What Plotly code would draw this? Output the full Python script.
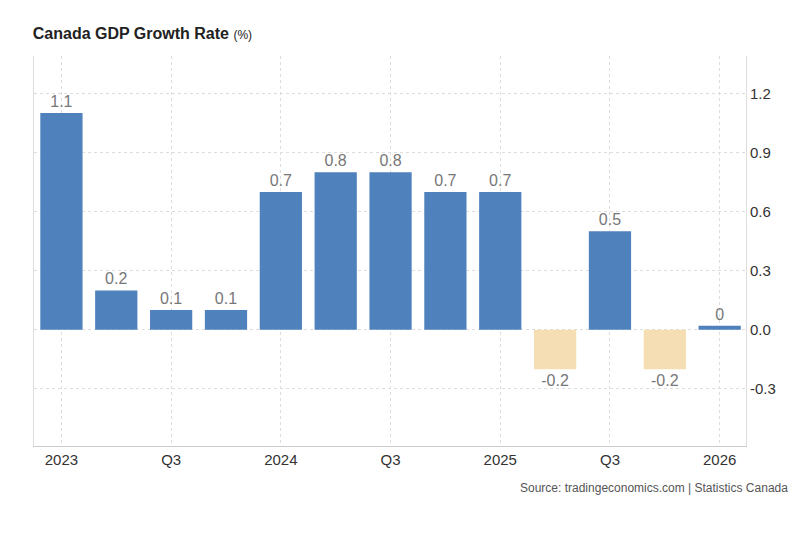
import plotly.graph_objects as go

quarters = ["2023Q1","2023Q2","2023Q3","2023Q4","2024Q1","2024Q2","2024Q3","2024Q4","2025Q1","2025Q2","2025Q3","2025Q4","2026Q1"]
values = [1.1,0.2,0.1,0.1,0.7,0.8,0.8,0.7,0.7,-0.2,0.5,-0.2,0.02]
labels = ["1.1","0.2","0.1","0.1","0.7","0.8","0.8","0.7","0.7","-0.2","0.5","-0.2","0"]
tick_text = ["2023","Q3","2024","Q3","2025","Q3","2026"]
tick_idx = [0,2,4,6,8,10,12]

x = list(range(len(quarters)))
colors = ["#4f81bd" if v >= 0 else "#f5deb3" for v in values]

fig = go.Figure(go.Bar(
    x=x, y=values, marker=dict(color=colors, line=dict(width=0)), width=0.77,
    text=labels, textposition="outside", cliponaxis=False,
    textfont=dict(family="Arial, Liberation Sans", size=16, color="#777777"),
))
fig.update_layout(
    width=800, height=546, plot_bgcolor="white", paper_bgcolor="white",
    margin=dict(l=26, r=62, t=48, b=108),
    showlegend=False, bargap=0.23,
    title=dict(text="<b>Canada GDP Growth Rate</b> <span style='font-size:12px'>(%)</span>",
               x=0.031, xanchor="left", y=0.963, yanchor="top",
               font=dict(family="Arial, Liberation Sans", size=16, color="#222222")),
    xaxis=dict(range=[-0.5,12.48], tickmode="array", tickvals=tick_idx, ticktext=tick_text,
               showgrid=True, gridcolor="#dddddd", griddash="dot",
               showline=True, linecolor="#cccccc", ticks="", zeroline=False,
               tickfont=dict(family="Arial, Liberation Sans", size=15, color="#333333")),
    yaxis=dict(side="right", range=[-0.59,1.39], tickvals=[-0.3,0,0.3,0.6,0.9,1.2],
               ticktext=["-0.3","0.0","0.3","0.6","0.9","1.2"],
               showgrid=True, gridcolor="#dddddd", griddash="dot", zeroline=False,
               showline=True, linecolor="#dddddd", mirror=True,
               tickfont=dict(family="Arial, Liberation Sans", size=15, color="#333333")),
    annotations=[dict(text="Source: tradingeconomics.com | Statistics Canada", xref="paper", yref="paper",
                      x=1.062, y=-0.085, xanchor="right", yanchor="top", showarrow=False,
                      font=dict(family="Arial, Liberation Sans", size=12, color="#555555"))],
)
fig.write_html("out.html")
